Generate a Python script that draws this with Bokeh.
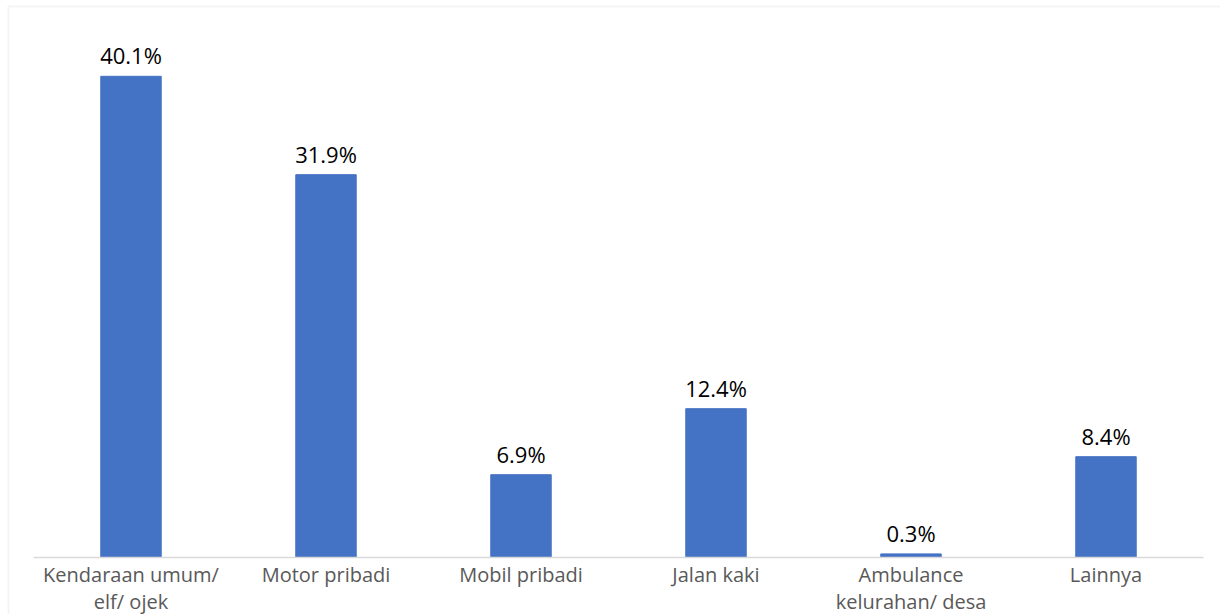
from bokeh.plotting import figure
from bokeh.models import ColumnDataSource, BoxAnnotation, Range1d
from bokeh.core.properties import value
from bokeh.embed import file_html
from bokeh.resources import INLINE

categories = ["Kendaraan umum/\nelf/ ojek", "Motor pribadi", "Mobil pribadi",
              "Jalan kaki", "Ambulance\nkelurahan/ desa", "Lainnya"]
values = [40.1, 31.9, 6.9, 12.4, 0.3, 8.4]
labels = [f"{v:.1f}%" for v in values]

W, H = 1220, 614
left, right, top, bottom = 33, 1203, 17, 557   # plot area in pixels
ymax = 45
n = len(categories)
xs = list(range(n))
slot = (right - left) / n
ppu = (bottom - top) / ymax

src = ColumnDataSource(dict(x=xs, cat=categories, val=values, lab=labels,
                            zero=[0] * n))

x_range = Range1d(-0.5 - left / slot, -0.5 + (W - left) / slot)
y_range = Range1d(-(H - bottom) / ppu, bottom / ppu)

p = figure(width=W, height=H, x_range=x_range, y_range=y_range,
           output_backend="svg", toolbar_location=None,
           min_border=0, min_border_left=0, min_border_right=0,
           min_border_top=0, min_border_bottom=0)
p.axis.visible = False
p.grid.visible = False
p.outline_line_color = None

p.vbar(x="x", top="val", width=0.31, source=src, color="#4472C4")
p.segment(x0=-0.5, x1=n - 0.5, y0=0, y1=0, line_color="#d9d9d9", line_width=1.5)
p.text(x="x", y="val", text="lab", source=src, text_align="center", text_baseline="bottom",
       y_offset=-6, text_font=value("Open Sans"), text_font_size="22px", text_color="#000000")
p.text(x="x", y="zero", text="cat", source=src, text_align="center", text_baseline="top",
       y_offset=3, text_font=value("Open Sans"), text_font_size="20px", text_color="#595959",
       text_line_height=1.0)

border = BoxAnnotation(left=8, right=W + 20, top=H - 6, bottom=-20,
                       left_units="screen", right_units="screen",
                       top_units="screen", bottom_units="screen",
                       fill_alpha=0, line_color="#d9d9d9", line_width=2)
p.add_layout(border)

open("out.html", "w").write(file_html(p, INLINE))
